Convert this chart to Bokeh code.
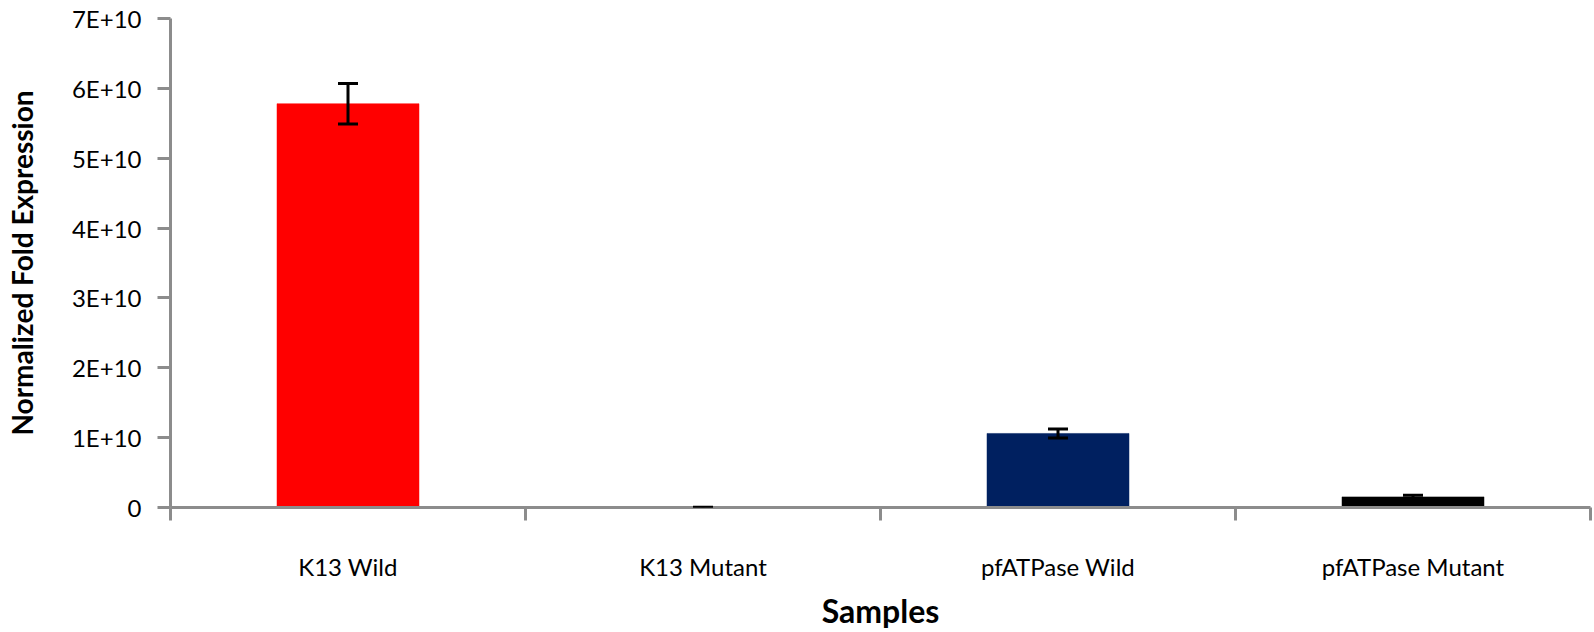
from bokeh.plotting import figure
from bokeh.models import ColumnDataSource, Range1d, FixedTicker, Whisker, TeeHead
from bokeh.embed import file_html
from bokeh.resources import INLINE

# ---- data ----
categories = ["K13 Wild", "K13 Mutant", "pfATPase Wild", "pfATPase Mutant"]
values = [5.78e10, 1.0e7, 1.06e10, 0.152e10]
errors = [0.29e10, 1.0e7, 0.065e10, 0.025e10]
bar_colors = ["#FF0000", "#7F7F7F", "#002060", "#000000"]
y_ticks = [0, 1e10, 2e10, 3e10, 4e10, 5e10, 6e10, 7e10]
y_tick_labels = ["0", "1E+10", "2E+10", "3E+10", "4E+10", "5E+10", "6E+10", "7E+10"]

# category centres on a numeric axis so that ticks can sit between categories
x_pos = [i + 0.5 for i in range(len(categories))]
x_bounds = [float(i) for i in range(len(categories) + 1)]

src = ColumnDataSource(dict(
    x=x_pos,
    top=values,
    upper=[v + e for v, e in zip(values, errors)],
    lower=[v - e for v, e in zip(values, errors)],
    color=bar_colors,
))

AXIS_GRAY = "#8C8C8C"
FONT = "Lato"

p = figure(width=1592, height=632,
           x_range=Range1d(0, len(categories)), y_range=Range1d(0, 7e10),
           output_backend="svg", toolbar_location=None,
           min_border_left=170, min_border_right=2,
           min_border_top=18, min_border_bottom=125)

p.vbar(x="x", top="top", width=0.4, source=src,
       fill_color="color", line_color="color", line_width=0.5)

whisk = Whisker(source=src, base="x", upper="upper", lower="lower",
                line_color="black", line_width=3, level="annotation",
                upper_head=TeeHead(size=20, line_color="black", line_width=3),
                lower_head=TeeHead(size=20, line_color="black", line_width=3))
p.add_layout(whisk)

p.xgrid.visible = False
p.ygrid.visible = False
p.outline_line_color = None
p.background_fill_color = "white"
p.border_fill_color = "white"

# x axis
xa = p.xaxis[0]
xa.ticker = FixedTicker(ticks=x_pos, minor_ticks=x_bounds)
xa.major_label_overrides = {x: c for x, c in zip(x_pos, categories)}
xa.major_tick_out = 0
xa.major_tick_in = 0
xa.minor_tick_out = 13
xa.minor_tick_in = 0
xa.minor_tick_line_color = AXIS_GRAY
xa.minor_tick_line_width = 3
xa.axis_line_color = AXIS_GRAY
xa.axis_line_width = 3
xa.major_label_text_font = FONT
xa.major_label_text_font_size = "24px"
xa.major_label_text_color = "black"
xa.major_label_standoff = 31
xa.axis_label = "Samples"
xa.axis_label_text_font = FONT
xa.axis_label_text_font_style = "bold"
xa.axis_label_text_font_size = "32px"
xa.axis_label_text_color = "black"
xa.axis_label_standoff = 7

# y axis
ya = p.yaxis[0]
ya.ticker = FixedTicker(ticks=y_ticks)
ya.major_label_overrides = {t: l for t, l in zip(y_ticks, y_tick_labels)}
ya.major_tick_out = 13
ya.major_tick_in = 0
ya.major_tick_line_color = AXIS_GRAY
ya.major_tick_line_width = 3
ya.axis_line_color = AXIS_GRAY
ya.axis_line_width = 3
ya.major_label_text_font = FONT
ya.major_label_text_font_size = "24px"
ya.major_label_text_color = "black"
ya.major_label_standoff = 16
ya.axis_label = "Normalized Fold Expression"
ya.axis_label_text_font = FONT
ya.axis_label_text_font_style = "bold"
ya.axis_label_text_font_size = "28px"
ya.axis_label_text_color = "black"
ya.axis_label_standoff = 30

open("out.html", "w").write(file_html(p, INLINE))
